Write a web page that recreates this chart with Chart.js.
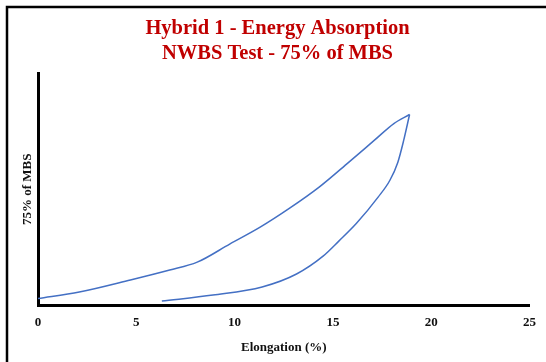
<!DOCTYPE html>
<html>
<head>
<meta charset="utf-8">
<title>Hybrid 1 - Energy Absorption</title>
<script src="https://cdn.jsdelivr.net/npm/chart.js@4"></script>
<style>
  body { margin: 0; background: #fff; }
  canvas { display: block; }
</style>
</head>
<body>
<canvas id="myChart" width="546" height="362"></canvas>
<script>
// loading branch (elongation %, load as % of axis height)
const loadElong = [0, 2.1, 4.7, 6.7, 8.1, 9.75, 11.3, 12.8, 14.3, 15.8, 17.1, 18.1, 18.9];
const loadForce = [2.8, 5.6, 10.8, 15.1, 18.5, 26.3, 33.6, 41.8, 50.9, 61.6, 71.1, 78.4, 82.3];

// unloading branch
const unloadElong = [18.9, 18.6, 18.3, 17.9, 17.3, 16.2, 15.3, 14.5, 13.15, 11.4, 8.9, 6.3];
const unloadForce = [82.3, 71.1, 61.6, 53.9, 46.6, 35.3, 27.6, 21.1, 13.4, 7.8, 4.3, 1.7];

const xTicks = [0, 5, 10, 15, 20, 25];

const lineColor = 'rgba(68, 112, 196, 1)';
const serif = "'Liberation Serif', 'Times New Roman', serif";

function toPoints(xs, ys) {
    return xs.map((x, i) => ({ x: x, y: ys[i] }));
}

// the clipped frame around the original picture
const framePlugin = {
    id: 'frame',
    afterDraw(chart) {
        const ctx = chart.ctx;
        ctx.save();
        ctx.strokeStyle = '#000';
        ctx.lineWidth = 2.5;
        ctx.beginPath();
        ctx.moveTo(7, 362);
        ctx.lineTo(7, 7);
        ctx.lineTo(546, 7);
        ctx.stroke();
        ctx.restore();
    }
};

const data = {
    datasets: [{
        label: 'Loading',
        data: toPoints(loadElong, loadForce),
        borderColor: lineColor,
        borderWidth: 1.5,
        pointRadius: 0,
        cubicInterpolationMode: 'monotone',
        showLine: true
    }, {
        label: 'Unloading',
        data: toPoints(unloadElong, unloadForce),
        borderColor: lineColor,
        borderWidth: 1.5,
        pointRadius: 0,
        cubicInterpolationMode: 'monotone',
        showLine: true
    }]
};

const config = {
    type: 'scatter',
    data: data,
    options: {
        responsive: false,
        animation: false,
        layout: {
            padding: { left: 25, right: 16, top: 0, bottom: 6.2 }
        },
        plugins: {
            legend: { display: false },
            tooltip: { enabled: false },
            title: {
                display: true,
                text: ['Hybrid 1 - Energy Absorption', 'NWBS Test - 75% of MBS'],
                color: '#c00000',
                font: { family: serif, size: 20.5, weight: 'bold', lineHeight: 1.22 },
                padding: { top: 16.5, bottom: 7 }
            }
        },
        scales: {
            x: {
                type: 'linear',
                min: 0,
                max: 25,
                grid: { display: false, drawTicks: false },
                border: { display: true, color: '#000', width: 3 },
                afterBuildTicks: (axis) => {
                    axis.ticks = xTicks.map(v => ({ value: v }));
                },
                ticks: {
                    color: '#111',
                    padding: 10,
                    font: { family: serif, size: 13, weight: 'bold' }
                },
                title: {
                    display: true,
                    text: 'Elongation (%)',
                    color: '#111',
                    font: { family: serif, size: 13, weight: 'bold' },
                    padding: { top: -0.4, bottom: 0 }
                }
            },
            y: {
                min: 0,
                max: 100,
                grid: { display: false, drawTicks: false },
                border: { display: true, color: '#000', width: 3 },
                ticks: { display: false },
                title: {
                    display: true,
                    text: '75% of MBS',
                    color: '#111',
                    font: { family: serif, size: 13, weight: 'bold' },
                    padding: { top: -4.8, bottom: 2.2 }
                }
            }
        }
    },
    plugins: [framePlugin]
};

const myChart = new Chart(
    document.getElementById('myChart'),
    config
);
</script>
</body>
</html>
